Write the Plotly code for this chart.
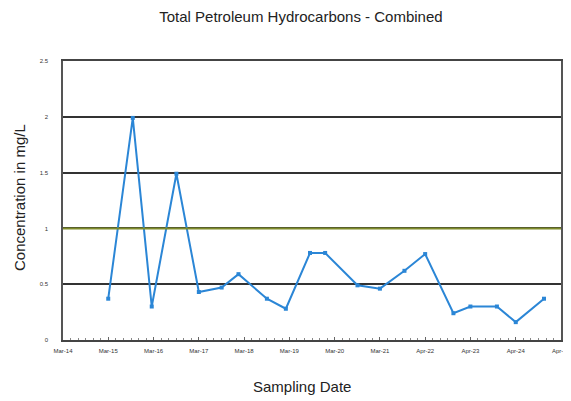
import plotly.graph_objects as go

sample_dates = ["2015-03-01", "2015-09-15", "2016-02-15", "2016-09-01", "2017-03-01",
                "2017-09-01", "2018-01-15", "2018-09-01", "2019-02-01", "2019-08-15",
                "2019-12-15", "2020-09-01", "2021-03-01", "2021-09-15", "2022-03-01",
                "2022-10-15", "2023-03-01", "2023-10-01", "2024-03-01", "2024-10-15"]
tph_values = [0.37, 1.99, 0.30, 1.49, 0.43, 0.47, 0.59, 0.37, 0.28, 0.78,
              0.78, 0.49, 0.46, 0.62, 0.77, 0.24, 0.30, 0.30, 0.16, 0.37]

tick_dates = ["2014-03-01", "2015-03-01", "2016-03-01", "2017-03-01", "2018-03-01",
              "2019-03-01", "2020-03-01", "2021-03-01", "2022-03-01", "2023-03-01",
              "2024-03-01", "2025-03-01"]
tick_labels = ["Mar-14", "Mar-15", "Mar-16", "Mar-17", "Mar-18", "Mar-19", "Mar-20",
               "Mar-21", "Apr-22", "Apr-23", "Apr-24", "Apr-25"]
y_ticks = [0, 0.5, 1, 1.5, 2, 2.5]
y_tick_labels = ["0", "0.5", "1", "1.5", "2", "2.5"]
threshold = 1.0

fig = go.Figure()
fig.add_trace(go.Scatter(
    x=sample_dates, y=tph_values, mode="lines+markers",
    line=dict(color="#2b86d6", width=2),
    marker=dict(symbol="square", size=4, color="#2b86d6"),
    showlegend=False,
))
fig.add_hline(y=threshold, line=dict(color="#7f8c2a", width=2), layer="above")

fig.update_layout(
    width=571, height=401,
    margin=dict(l=55, r=18, t=53, b=69, autoexpand=False),
    paper_bgcolor="white", plot_bgcolor="white",
    font=dict(family="Liberation Sans, Arial, sans-serif", color="#222"),
    title=dict(text="Total Petroleum Hydrocarbons - Combined", x=0.513, xanchor="center",
               y=0.978, yanchor="middle", font=dict(size=15, color="#222")),
    annotations=[
        dict(text="Sampling Date", xref="paper", yref="paper", x=0.48, y=-0.168,
             xanchor="center", yanchor="middle", showarrow=False,
             font=dict(size=15, color="#222")),
        dict(text="Concentration in mg/L", xref="paper", yref="paper", x=-0.0863, y=0.509,
             xanchor="center", yanchor="middle", textangle=-90, showarrow=False,
             font=dict(size=15, color="#222")),
    ],
)
fig.update_xaxes(
    type="date", range=[tick_dates[0], tick_dates[-1]],
    tickmode="array", tickvals=tick_dates, ticktext=tick_labels,
    tickfont=dict(size=6, color="#333"), tickangle=0, ticklabelstandoff=4,
    showgrid=False, showline=True, linecolor="#444", linewidth=1.5, mirror=True,
    ticks="inside", ticklen=3, tickcolor="#666",
    minor=dict(ticks="inside", ticklen=2, tickcolor="#888", dtick="M2"),
    automargin=False,
)
fig.update_yaxes(
    range=[0, 2.5], tickmode="array", tickvals=y_ticks, ticktext=y_tick_labels,
    tickfont=dict(size=6, color="#333"),
    showgrid=True, gridcolor="#333", gridwidth=1.5, zeroline=False,
    showline=True, linecolor="#555", linewidth=1.5, mirror=True,
    ticks="", ticklabelstandoff=12, automargin=False,
)

fig.write_html("out.html")
